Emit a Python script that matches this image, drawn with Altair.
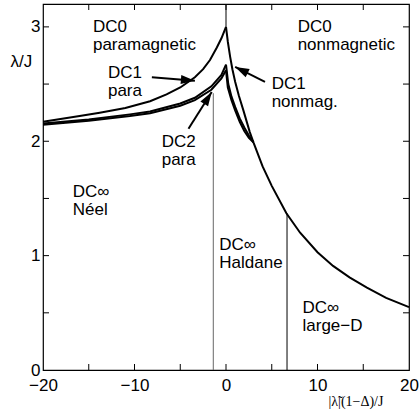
import math
import altair as alt
import pandas as pd

# ---------------- data ----------------
dc0_left_x = [-20, -16, -13.8, -11, -8.3, -6.5, -5, -3.4, -2.5, -1.75, -1, -0.5, 0]
dc0_left_y = [2.17, 2.22, 2.25, 2.29, 2.35, 2.41, 2.47, 2.56, 2.63, 2.71, 2.82, 2.9, 3.0]

dc0_right_x = [0, 0.2, 0.45, 0.7, 1.0, 1.4, 1.9, 2.6, 3.0, 4.0, 5.0, 6.6, 8.1, 10, 11.7, 13.5, 15.4, 17.5, 20]
dc0_right_y = [3.0, 2.87, 2.74, 2.63, 2.52, 2.40, 2.27, 2.08, 1.99, 1.78, 1.61, 1.37, 1.2, 1.03, 0.91, 0.81, 0.72, 0.63, 0.55]

dc1_left_x = [-20, -15, -10.5, -8.3, -5, -3.4, -1.6, -0.5, 0]
dc1_left_y = [2.155, 2.19, 2.235, 2.26, 2.33, 2.38, 2.48, 2.58, 2.67]
dc1_right_x = [0, 0.25, 0.6, 1.0, 1.5, 2.0, 2.5, 3.0]
dc1_right_y = [2.67, 2.5, 2.39, 2.3, 2.2, 2.12, 2.05, 1.99]

dc2_left_x = [-20, -15, -10.5, -8.3, -5, -3.4, -1.6, -0.5, 0]
dc2_left_y = [2.145, 2.18, 2.22, 2.245, 2.31, 2.36, 2.45, 2.55, 2.62]
dc2_right_x = [0, 0.2, 0.6, 1.0, 1.5, 2.0, 2.5, 3.0]
dc2_right_y = [2.62, 2.47, 2.36, 2.27, 2.17, 2.09, 2.03, 1.99]

# vertical boundaries
vline_x = [-1.39, 6.67, 0]
vline_y0 = [0, 0, 3.0]
vline_y1 = [2.42, 1.37, 3.2]
vline_color = ["#666666", "#000000", "#000000"]

# arrows (tail -> head)
arrow_tail_x = [-8.1, -4.1, 4.26]
arrow_tail_y = [2.56, 2.11, 2.52]
arrow_head_x = [-3.4, -1.56, 1.0]
arrow_head_y = [2.53, 2.43, 2.65]

# region labels
label_x = [-14.54, -12.9, -7.03, -16.75, 7.83, 4.99, -0.73, 8.36]
label_y = [2.955, 2.55, 1.952, 1.515, 2.953, 2.454, 1.049, 0.496]
label_text = [
    ["DC0", "paramagnetic"],
    ["DC1", "para"],
    ["DC2", "para"],
    ["DC\u221e", "N\u00e9el"],
    ["DC0", "nonmagnetic"],
    ["DC1", "nonmag."],
    ["DC\u221e", "Haldane"],
    ["DC\u221e", "large\u2212D"],
]

x_tick_labels = [-20, -10, 0, 10, 20]
y_tick_labels = [0, 1, 2, 3]
x_minor = [-15, -10, -5, 0, 5, 10, 15]
y_minor = [0.5, 1.0, 1.5, 2.0, 2.5, 3.0]

# ---------------- layout ----------------
W, H = 366, 366
XD = [-20, 20]
YD = [0, 3.2]
FONT = "Liberation Sans"


def to_px(x, y):
    return ((x - XD[0]) / (XD[1] - XD[0]) * W, H - (y - YD[0]) / (YD[1] - YD[0]) * H)


rows = []
for name, xs, ys in [
    ("dc0l", dc0_left_x, dc0_left_y),
    ("dc0r", dc0_right_x, dc0_right_y),
    ("dc1l", dc1_left_x, dc1_left_y),
    ("dc1r", dc1_right_x, dc1_right_y),
    ("dc2l", dc2_left_x, dc2_left_y),
    ("dc2r", dc2_right_x, dc2_right_y),
]:
    for i, (a, b) in enumerate(zip(xs, ys)):
        rows.append({"curve": name, "i": i, "x": a, "y": b})
curves = pd.DataFrame(rows)

vlines = pd.DataFrame({"x": vline_x, "y": vline_y0, "y2": vline_y1, "c": vline_color})

angles = []
for tx_, ty_, hx, hy in zip(arrow_tail_x, arrow_tail_y, arrow_head_x, arrow_head_y):
    p0 = to_px(tx_, ty_)
    p1 = to_px(hx, hy)
    a = math.degrees(math.atan2(p1[1] - p0[1], p1[0] - p0[0])) % 360
    angles.append(a)
arrows = pd.DataFrame({"x": arrow_tail_x, "y": arrow_tail_y, "x2": arrow_head_x,
                       "y2": arrow_head_y, "ang": angles})

labels = pd.DataFrame({"x": label_x, "y": label_y, "t": label_text})

xscale = alt.Scale(domain=XD, nice=False, zero=False)
yscale = alt.Scale(domain=YD, nice=False, zero=False)

xaxis = alt.Axis(values=x_tick_labels, ticks=False, domain=False, grid=False,
                 labelFont=FONT, labelFontSize=17, labelColor="black", labelPadding=7,
                 labelFlush=False,
                 title="|\u03bb\u0303|(1\u2212\u0394)/J", titleFont="Liberation Serif",
                 titleFontSize=14, titleFontWeight="normal", titleColor="black",
                 titleAlign="left", titleBaseline="alphabetic",
                 titleX=285, titleY=35)
yaxis = alt.Axis(values=y_tick_labels, ticks=False, domain=False, grid=False,
                 labelFont=FONT, labelFontSize=17, labelColor="black", labelPadding=3,
                 labelFlush=False,
                 title="\u03bb/J", titleFont=FONT, titleFontSize=17, titleFontWeight="normal",
                 titleColor="black", titleAngle=0, titleAlign="left",
                 titleBaseline="alphabetic", titleX=-33, titleY=62)


def X(f):
    return alt.X(f, scale=xscale, axis=xaxis)


def Y(f):
    return alt.Y(f, scale=yscale, axis=yaxis)


lines = alt.Chart(curves).mark_line(color="black", strokeWidth=2).encode(
    x=X("x:Q"), y=Y("y:Q"), detail="curve:N", order="i:Q",
)

vr = alt.Chart(vlines).mark_rule(strokeWidth=1).encode(
    x=X("x:Q"), y=Y("y:Q"), y2="y2:Q", color=alt.Color("c:N", scale=None),
)

shafts = alt.Chart(arrows).mark_rule(strokeWidth=2, color="black").encode(
    x=X("x:Q"), y=Y("y:Q"), x2="x2:Q", y2="y2:Q",
)

heads = alt.Chart(arrows).mark_point(
    shape="M0,0 L-2,-0.65 L-2,0.65 Z", filled=True, size=196, color="black",
    opacity=1, strokeWidth=0,
).encode(
    x=X("x2:Q"), y=Y("y2:Q"), angle=alt.Angle("ang:Q", scale=None),
)

texts = alt.Chart(labels).mark_text(
    font=FONT, fontSize=17, align="left", baseline="alphabetic", lineHeight=18, color="black"
).encode(
    x=X("x:Q"), y=Y("y:Q"), text="t",
)

tx = pd.DataFrame({"t": x_minor})
ty = pd.DataFrame({"t": y_minor})
tick_b = alt.Chart(tx).mark_rule(color="black", strokeWidth=1).encode(
    x=X("t:Q"), y=alt.value(H), y2=alt.value(H - 6))
tick_t = alt.Chart(tx).mark_rule(color="black", strokeWidth=1).encode(
    x=X("t:Q"), y=alt.value(0), y2=alt.value(6))
tick_l = alt.Chart(ty).mark_rule(color="black", strokeWidth=1).encode(
    y=Y("t:Q"), x=alt.value(0), x2=alt.value(6))
tick_r = alt.Chart(ty).mark_rule(color="black", strokeWidth=1).encode(
    y=Y("t:Q"), x=alt.value(W), x2=alt.value(W - 6))

chart = alt.layer(
    lines, vr, tick_b, tick_t, tick_l, tick_r, shafts, heads, texts
).properties(
    width=W, height=H,
    autosize=alt.AutoSizeParams(type="none"),
    padding={"left": 43, "top": 4, "right": 10, "bottom": 47},
    background="white",
).configure_view(stroke="black", strokeWidth=1.2)

chart.save("out.html", embed_options={"renderer": "svg", "actions": False})
